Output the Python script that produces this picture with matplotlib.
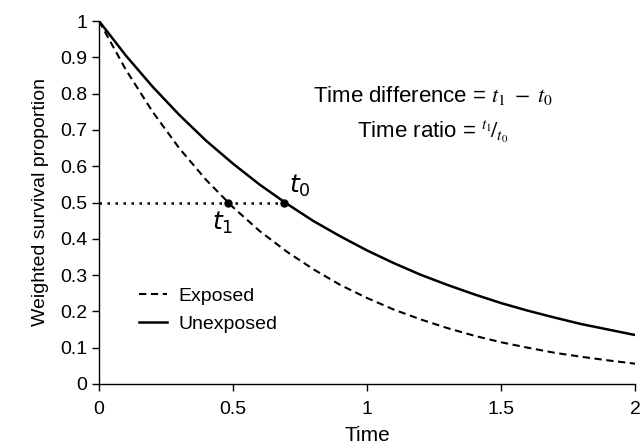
import matplotlib
matplotlib.use("Agg")
import matplotlib.pyplot as plt

plt.rcParams['font.family'] = ['Liberation Sans', 'DejaVu Sans']
plt.rcParams['mathtext.fontset'] = 'stix'

time = [0, 0.1, 0.2, 0.3, 0.4, 0.5, 0.6, 0.7, 0.8, 0.9, 1.0,
        1.1, 1.2, 1.3, 1.4, 1.5, 1.6, 1.7, 1.8, 1.9, 2.0]
exposed = [1.0, 0.866, 0.750, 0.649, 0.562, 0.487, 0.421, 0.365, 0.316, 0.273, 0.237,
           0.205, 0.178, 0.154, 0.133, 0.115, 0.100, 0.086, 0.075, 0.065, 0.056]
unexposed = [1.0, 0.905, 0.819, 0.741, 0.670, 0.607, 0.549, 0.497, 0.449, 0.407, 0.368,
             0.333, 0.301, 0.273, 0.247, 0.223, 0.202, 0.183, 0.165, 0.150, 0.135]
median_times = [0.48, 0.69]   # t1, t0
median_level = 0.5

fig = plt.figure(figsize=(6.43, 4.45), dpi=100)
ax = fig.add_axes([99/643, 1-384/445, (635-99)/643, (384-21)/445])

ax.plot(time, exposed, color='black', linestyle=(0, (3.5, 2.2)), lw=1.5, label='Exposed')
ax.plot(time, unexposed, color='black', linestyle='-', lw=1.8, label='Unexposed')
ax.plot([0, median_times[1]], [median_level, median_level], color='black',
        linestyle=(0, (1, 2.2)), lw=1.8)
ax.plot(median_times, [median_level]*2, 'o', color='black', ms=5, zorder=5)

ax.text(median_times[0] - 0.06, median_level - 0.02, r'$\mathit{t}_1$', fontsize=18,
        ha='left', va='top', math_fontfamily='dejavusans')
ax.text(median_times[1] + 0.02, median_level + 0.01, r'$\mathit{t}_0$', fontsize=18,
        ha='left', va='bottom', math_fontfamily='dejavusans')

ax.text(1.245, 0.795, r'Time difference = $t_1\;-\;t_0$', fontsize=16, ha='center', va='center')
ax.text(1.245, 0.695, r'Time ratio = ${}^{t_1}\!/_{t_0}$', fontsize=16, ha='center', va='center')

ax.set_xlim(0, 2)
ax.set_ylim(0, 1)
ax.set_xticks([0, 0.5, 1, 1.5, 2])
ax.set_xticklabels(['0', '0.5', '1', '1.5', '2'])
ax.set_yticks([i/10 for i in range(11)])
ax.set_yticklabels(['0', '0.1', '0.2', '0.3', '0.4', '0.5', '0.6', '0.7', '0.8', '0.9', '1'])
ax.tick_params(direction='out', length=5, width=1, labelsize=14, colors='black')
ax.tick_params(axis='x', pad=7)
for s in ['top', 'right']:
    ax.spines[s].set_visible(False)
for s in ['left', 'bottom']:
    ax.spines[s].set_linewidth(1)
ax.set_xlabel('Time', fontsize=15, labelpad=6)
ax.set_ylabel('Weighted survival proportion', fontsize=14, labelpad=8)

ax.legend(loc='upper left', bbox_to_anchor=(0.05, 0.305), frameon=False, fontsize=14,
          handlelength=1.4, handletextpad=0.6, labelspacing=0.55, borderpad=0.2)

fig.savefig('out.png', dpi=100)
